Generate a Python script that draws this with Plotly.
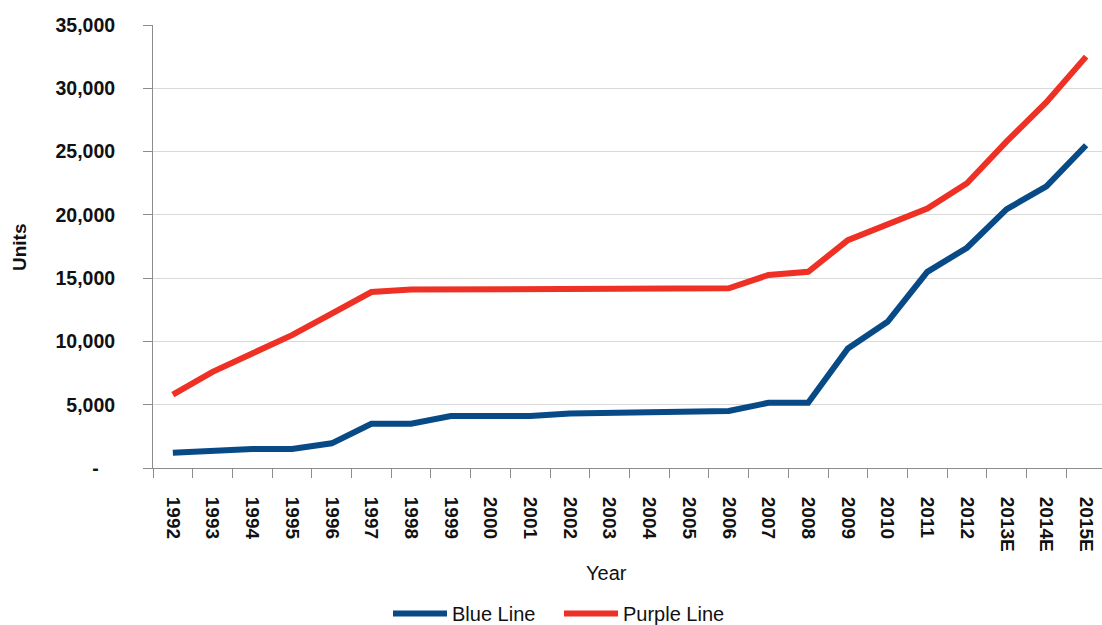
import plotly.graph_objects as go

years = ["1992", "1993", "1994", "1995", "1996", "1997", "1998", "1999", "2000",
         "2001", "2002", "2003", "2004", "2005", "2006", "2007", "2008", "2009",
         "2010", "2011", "2012", "2013E", "2014E", "2015E"]

blue_line = [1200, 1400, 1500, 1500, 1950, 3500, 3500, 4100, 4100,
             4100, 4300, 4350, 4350, 4500, 4500, 5150, 5150, 9450,
             11550, 15500, 17400, 20450, 22250, 25500]

purple_line = [5800, 7600, 9050, 10500, 12200, 13900, 14100, 14100, 14100,
               14100, 14100, 14100, 14150, 14150, 14200, 15250, 15500, 18000,
               19300, 20500, 22500, 25800, 28900, 32500]

y_ticks = [0, 5000, 10000, 15000, 20000, 25000, 30000, 35000]
y_tick_text = ["-\u00a0\u00a0\u00a0", "5,000", "10,000", "15,000", "20,000",
               "25,000", "30,000", "35,000"]

BLUE = "#074A86"
RED = "#EE3124"
FONT = "Liberation Sans, Arial, sans-serif"
TEXT = "#111111"

W, H = 1102, 625
L, R, T, B = 153, 0, 25, 157
plot_w = W - L - R
plot_h = H - T - B


def px_to_paper(px, py):
    """Pixel position on the page -> paper coordinates of the plot area."""
    return (px - L) / plot_w, (H - B - py) / plot_h


fig = go.Figure()
fig.add_trace(go.Scatter(x=years, y=blue_line, name="Blue Line", mode="lines",
                         line=dict(color=BLUE, width=6)))
fig.add_trace(go.Scatter(x=years, y=purple_line, name="Purple Line", mode="lines",
                         line=dict(color=RED, width=6)))

lx, ly = px_to_paper(388, 594)

fig.update_layout(
    width=W, height=H,
    margin=dict(l=L, r=R, t=T, b=B, autoexpand=False),
    paper_bgcolor="white", plot_bgcolor="white",
    font=dict(family=FONT, size=19, color=TEXT),
    showlegend=True,
    legend=dict(orientation="h", x=lx, xanchor="left", y=ly, yanchor="top",
                font=dict(family=FONT, size=20, color=TEXT),
                itemwidth=54, tracegroupgap=0, entrywidth=102,
                bgcolor="rgba(0,0,0,0)"),
    xaxis=dict(
        type="category", range=[-0.5, 23.4], automargin=False,
        showgrid=False, showline=True, linecolor="#8C8C8C", linewidth=1,
        ticks="outside", ticklen=9, tickcolor="#8C8C8C", tickson="boundaries",
        tickangle=90, tickfont=dict(family=FONT, size=19, color=TEXT,
                                    weight="bold"),
        ticklabelstandoff=24,
    ),
    yaxis=dict(
        range=[0, 35000], tickvals=y_ticks, ticktext=y_tick_text, automargin=False,
        showgrid=True, gridcolor="#D9D9D9", gridwidth=1,
        showline=True, linecolor="#8C8C8C", linewidth=1,
        ticks="outside", ticklen=9, tickcolor="#8C8C8C",
        tickfont=dict(family=FONT, size=19.5, color=TEXT, weight="bold"),
        ticklabelstandoff=24, zeroline=False,
    ),
)

ux, uy = px_to_paper(19, 247)
fig.add_annotation(text="Units", textangle=-90, x=ux, y=uy, xref="paper",
                   yref="paper", xanchor="center", yanchor="middle",
                   showarrow=False,
                   font=dict(family=FONT, size=19, color=TEXT, weight="bold"))
yx, yy = px_to_paper(606, 573)
fig.add_annotation(text="Year", x=yx, y=yy, xref="paper", yref="paper",
                   xanchor="center", yanchor="middle", showarrow=False,
                   font=dict(family=FONT, size=20, color=TEXT))

fig.write_html("out.html")
